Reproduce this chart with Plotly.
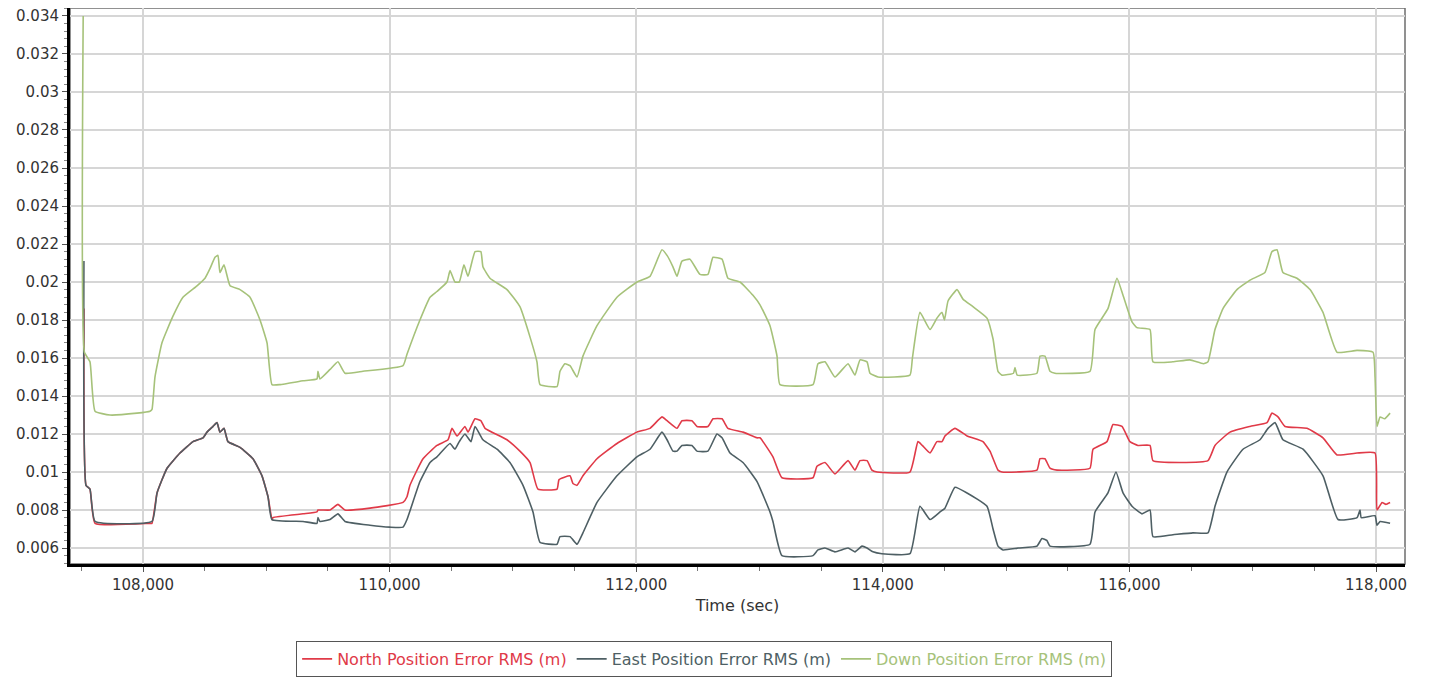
import plotly.graph_objects as go

# ---------------- data ----------------
down_t = [107515, 107525, 107570, 107611, 107732, 107951, 108057, 108073, 108097, 108154,
          108243, 108324, 108438, 108503, 108543, 108584, 108608, 108624, 108657, 108706,
          108787, 108868, 108949, 109006, 109046, 109111, 109298, 109411, 109419, 109435,
          109517, 109581, 109638, 109784, 110109, 110141, 110246, 110328, 110384, 110465,
          110490, 110530, 110565, 110603, 110636, 110693, 110740, 110757, 110814, 110952,
          111057, 111139, 111195, 111220, 111358, 111382, 111422, 111463, 111520, 111568,
          111682, 111844, 112006, 112112, 112209, 112250, 112298, 112331, 112371, 112436,
          112517, 112582, 112623, 112696, 112744, 112842, 112947, 113004, 113085, 113142,
          113166, 113434, 113474, 113531, 113612, 113718, 113774, 113815, 113872, 113896,
          113961, 114220, 114240, 114301, 114383, 114439, 114480, 114500, 114529, 114602,
          114650, 114731, 114845, 114894, 114934, 114966, 115060, 115072, 115090, 115250,
          115275, 115315, 115356, 115396, 115680, 115721, 115826, 115899, 115948, 116021,
          116061, 116167, 116191, 116353, 116491, 116600, 116637, 116694, 116759, 116872,
          116978, 117099, 117156, 117197, 117245, 117359, 117465, 117570, 117684, 117846,
          117976, 117992, 118008, 118033, 118070, 118114]
down_v = [0.0340, 0.0163, 0.0158, 0.0132, 0.0130, 0.0131, 0.0132, 0.0133, 0.0150, 0.0168,
          0.0182, 0.0192, 0.0198, 0.0202, 0.0207, 0.0213, 0.0214, 0.0205, 0.0209, 0.0198,
          0.0196, 0.0192, 0.0180, 0.0168, 0.0146, 0.0146, 0.0148, 0.0149, 0.0153, 0.0149,
          0.0154, 0.0158, 0.0152, 0.0153, 0.0156, 0.0162, 0.0180, 0.0192, 0.0195, 0.0200,
          0.0206, 0.0200, 0.0200, 0.0209, 0.0203, 0.0216, 0.0216, 0.0208, 0.0202, 0.0196,
          0.0187, 0.0171, 0.0158, 0.0146, 0.0145, 0.0153, 0.0157, 0.0156, 0.0150, 0.0161,
          0.0177, 0.0192, 0.0200, 0.0203, 0.0217, 0.0214, 0.0208, 0.0203, 0.0211, 0.0212,
          0.0204, 0.0204, 0.0213, 0.0212, 0.0202, 0.0200, 0.0193, 0.0188, 0.0177, 0.0161,
          0.0146, 0.0146, 0.0157, 0.0158, 0.0150, 0.0157, 0.0151, 0.0159, 0.0158, 0.0152,
          0.0150, 0.0151, 0.0160, 0.0184, 0.0175, 0.0181, 0.0184, 0.0180, 0.0190, 0.0196,
          0.0191, 0.0187, 0.0181, 0.0170, 0.0153, 0.0151, 0.0152, 0.0155, 0.0151, 0.0152,
          0.0161, 0.0161, 0.0153, 0.0152, 0.0153, 0.0175, 0.0186, 0.0202, 0.0193, 0.0179,
          0.0176, 0.0175, 0.0158, 0.0158, 0.0159, 0.0157, 0.0158, 0.0175, 0.0186, 0.0196,
          0.0201, 0.0205, 0.0216, 0.0217, 0.0205, 0.0202, 0.0196, 0.0184, 0.0163, 0.0164,
          0.0163, 0.0150, 0.0124, 0.0129, 0.0128, 0.0131]

north_t = [107521, 107538, 107570, 107611, 108057, 108073, 108114, 108195, 108300, 108406,
           108487, 108519, 108568, 108600, 108624, 108657, 108689, 108787, 108892, 108965,
           109014, 109046, 109054, 109298, 109411, 109419, 109517, 109581, 109638, 109841,
           110109, 110141, 110165, 110271, 110384, 110474, 110506, 110547, 110611, 110636,
           110693, 110740, 110774, 110952, 111057, 111139, 111203, 111358, 111374, 111463,
           111487, 111520, 111568, 111682, 111844, 112006, 112112, 112209, 112250, 112331,
           112371, 112452, 112493, 112582, 112623, 112696, 112744, 112866, 112980, 113004,
           113109, 113182, 113434, 113466, 113531, 113612, 113718, 113774, 113815, 113872,
           113912, 113953, 114220, 114285, 114320, 114383, 114439, 114480, 114504, 114585,
           114683, 114812, 114869, 114934, 114966, 115250, 115275, 115315, 115356, 115413,
           115680, 115705, 115818, 115867, 115940, 116004, 116069, 116167, 116191, 116637,
           116694, 116816, 116978, 117116, 117156, 117205, 117262, 117440, 117570, 117684,
           117846, 117992, 118008, 118049, 118080, 118114]
north_v = [0.0186, 0.0093, 0.0091, 0.0073, 0.0073, 0.0073, 0.0089, 0.0102, 0.0110, 0.0116,
           0.0118, 0.0121, 0.0124, 0.0126, 0.0121, 0.0123, 0.0116, 0.0113, 0.0107, 0.0098,
           0.0087, 0.0075, 0.0076, 0.0078, 0.0079, 0.0080, 0.0080, 0.0083, 0.0080, 0.0081,
           0.0084, 0.0087, 0.0093, 0.0107, 0.0114, 0.0117, 0.0123, 0.0119, 0.0124, 0.0121,
           0.0128, 0.0127, 0.0123, 0.0117, 0.0111, 0.0105, 0.0091, 0.0091, 0.0096, 0.0098,
           0.0094, 0.0093, 0.0098, 0.0107, 0.0115, 0.0121, 0.0123, 0.0129, 0.0127, 0.0123,
           0.0127, 0.0127, 0.0124, 0.0124, 0.0128, 0.0128, 0.0123, 0.0121, 0.0118, 0.0118,
           0.0108, 0.0097, 0.0097, 0.0103, 0.0105, 0.0099, 0.0106, 0.0101, 0.0106, 0.0106,
           0.0101, 0.0100, 0.0100, 0.0116, 0.0114, 0.0110, 0.0116, 0.0116, 0.0119, 0.0123,
           0.0119, 0.0116, 0.0111, 0.0101, 0.0100, 0.0101, 0.0107, 0.0107, 0.0102, 0.0101,
           0.0102, 0.0112, 0.0116, 0.0125, 0.0124, 0.0116, 0.0114, 0.0114, 0.0106, 0.0106,
           0.0114, 0.0121, 0.0124, 0.0126, 0.0131, 0.0129, 0.0124, 0.0123, 0.0118, 0.0109,
           0.0110, 0.0110, 0.0080, 0.0084, 0.0083, 0.0084]

east_t = [107521, 107538, 107570, 107611, 108073, 108114, 108195, 108300, 108406, 108487,
          108519, 108568, 108600, 108624, 108657, 108689, 108787, 108892, 108965, 109014,
          109046, 109298, 109411, 109419, 109435, 109517, 109581, 109638, 109841, 110003,
          110109, 110141, 110246, 110328, 110384, 110490, 110530, 110565, 110611, 110660,
          110693, 110757, 110871, 110976, 111082, 111163, 111220, 111358, 111382, 111463,
          111520, 111568, 111682, 111844, 112006, 112112, 112209, 112250, 112298, 112331,
          112371, 112452, 112493, 112582, 112655, 112696, 112761, 112866, 112980, 113085,
          113109, 113182, 113434, 113474, 113531, 113612, 113718, 113774, 113831, 113872,
          113920, 113993, 114220, 114301, 114383, 114464, 114504, 114585, 114683, 114845,
          114894, 114934, 114975, 115100, 115250, 115291, 115330, 115356, 115680, 115721,
          115826, 115891, 115948, 116021, 116102, 116167, 116191, 116353, 116515, 116637,
          116694, 116791, 116921, 117059, 117124, 117181, 117245, 117408, 117570, 117692,
          117846, 117870, 117880, 117992, 118008, 118033, 118114]
east_v = [0.0211, 0.0093, 0.0091, 0.0074, 0.0074, 0.0089, 0.0102, 0.0110, 0.0116, 0.0118,
          0.0121, 0.0124, 0.0126, 0.0121, 0.0123, 0.0116, 0.0113, 0.0107, 0.0098, 0.0087,
          0.0075, 0.0074, 0.0073, 0.0076, 0.0074, 0.0075, 0.0078, 0.0074, 0.0072, 0.0071,
          0.0071, 0.0075, 0.0095, 0.0105, 0.0108, 0.0115, 0.0112, 0.0116, 0.0120, 0.0116,
          0.0124, 0.0117, 0.0112, 0.0105, 0.0093, 0.0079, 0.0063, 0.0062, 0.0066, 0.0066,
          0.0062, 0.0068, 0.0084, 0.0098, 0.0108, 0.0112, 0.0121, 0.0117, 0.0111, 0.0111,
          0.0114, 0.0114, 0.0111, 0.0111, 0.0120, 0.0118, 0.0110, 0.0105, 0.0095, 0.0079,
          0.0074, 0.0056, 0.0056, 0.0059, 0.0060, 0.0058, 0.0060, 0.0058, 0.0061, 0.0060,
          0.0058, 0.0057, 0.0057, 0.0082, 0.0075, 0.0079, 0.0081, 0.0092, 0.0089, 0.0082,
          0.0070, 0.0061, 0.0059, 0.0060, 0.0061, 0.0065, 0.0064, 0.0061, 0.0062, 0.0079,
          0.0089, 0.0100, 0.0089, 0.0082, 0.0078, 0.0080, 0.0066, 0.0067, 0.0068, 0.0068,
          0.0082, 0.0100, 0.0112, 0.0117, 0.0123, 0.0126, 0.0117, 0.0112, 0.0098, 0.0075,
          0.0076, 0.0080, 0.0076, 0.0077, 0.0072, 0.0074, 0.0073]

series_names = ["North Position Error RMS (m)", "East Position Error RMS (m)",
                "Down Position Error RMS (m)"]
series_colors = ["#e03a48", "#4e5f64", "#a6c27a"]

x_tickvals = [108000, 110000, 112000, 114000, 116000, 118000]
y_tickvals = [0.006, 0.008, 0.01, 0.012, 0.014, 0.016, 0.018, 0.02, 0.022, 0.024,
              0.026, 0.028, 0.03, 0.032, 0.034]
y_ticktext = ["0.006", "0.008", "0.01", "0.012", "0.014", "0.016", "0.018", "0.02",
              "0.022", "0.024", "0.026", "0.028", "0.03", "0.032", "0.034"]

# ---------------- figure ----------------
fig = go.Figure()
for t, v, name, col in [(north_t, north_v, series_names[0], series_colors[0]),
                        (east_t, east_v, series_names[1], series_colors[1]),
                        (down_t, down_v, series_names[2], series_colors[2])]:
    fig.add_trace(go.Scatter(
        x=t, y=v, mode="lines",
        name=f'<span style="color:{col}">{name}</span>',
        line=dict(color=col, width=1.6, shape="spline", smoothing=0.4),
    ))

# gray frame around plot area
fig.add_shape(type="rect", xref="paper", yref="paper", x0=0, x1=1, y0=0, y1=1,
              line=dict(color="#6e6e6e", width=1.5), fillcolor="rgba(0,0,0,0)", layer="below")

font = "DejaVu Sans, Verdana, sans-serif"
# page body has an 8px default margin: the figure is offset by it
fig.update_layout(
    width=1424, height=669,
    margin=dict(l=62, r=27, t=0, b=112),
    paper_bgcolor="white", plot_bgcolor="white",
    font=dict(family=font, size=13, color="#333333"),
    showlegend=True,
    legend=dict(orientation="h", x=0.475, xanchor="center", y=-0.1706, yanchor="middle",
                bordercolor="#555555", borderwidth=1, bgcolor="white",
                font=dict(family=font, size=16), itemwidth=30),
    xaxis=dict(range=[107408, 118235], tickvals=x_tickvals, tickformat=",d",
               automargin=False,
               showgrid=True, gridcolor="#d6d6d6", gridwidth=2,
               showline=True, linecolor="black", linewidth=3,
               ticks="outside", ticklen=5, tickcolor="#555555",
               minor=dict(dtick=500, ticks="outside", ticklen=4, tickcolor="#777777", showgrid=False),
               title=dict(text="Time (sec)", font=dict(size=16, color="#333333"), standoff=7),
               tickfont=dict(size=15, color="#333333"), zeroline=False),
    yaxis=dict(range=[0.00516, 0.03442], tickvals=y_tickvals, ticktext=y_ticktext,
               automargin=False, ticklabeloverflow="allow",
               showgrid=True, gridcolor="#d6d6d6", gridwidth=2,
               showline=True, linecolor="black", linewidth=3,
               ticks="outside", ticklen=5, tickcolor="#555555",
               minor=dict(dtick=0.0004, ticks="outside", ticklen=3, tickcolor="#888888", showgrid=False),
               tickfont=dict(size=15, color="#333333"), zeroline=False),
)

fig.write_html("out.html")
